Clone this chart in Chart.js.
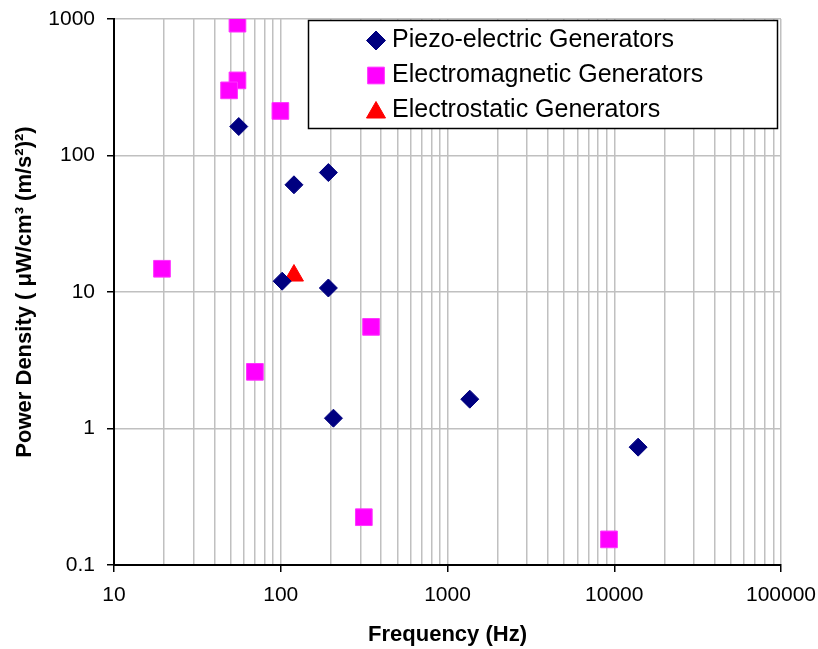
<!DOCTYPE html>
<html>
<head>
<meta charset="utf-8">
<script src="https://cdn.jsdelivr.net/npm/chart.js@4.4.1/dist/chart.umd.min.js"></script>
<style>
  body { margin: 0; background: #fff; }
</style>
</head>
<body>
<canvas id="chart" width="818" height="649"></canvas>
<script>
const FONT = "'Liberation Sans', Arial, sans-serif";

// data
const piezoFreq = [56, 120, 193, 102, 193, 207, 1360, 13900];
const piezoPower = [163, 61, 75, 12, 10.7, 1.19, 1.64, 0.73];

const emFreq = [55, 55, 49, 99.5, 19.4, 348, 70, 315, 9300];
const emPower = [924, 355, 300, 212, 14.8, 5.55, 2.6, 0.224, 0.154];

const esFreq = [120];
const esPower = [13.2];

const xTickLabels = ['10', '100', '1000', '10000', '100000'];
const yTickLabels = ['0.1', '1', '10', '100', '1000'];

const toPoints = (xs, ys) => xs.map((x, i) => ({ x: x, y: ys[i] }));

// x axis: decades get a label, 2..9 get only a grid line
const xMajor = xTickLabels.map(Number);
const xTicks = [];
xMajor.forEach((d, i) => {
  xTicks.push({ value: d, major: true });
  if (i < xMajor.length - 1) {
    for (let m = 2; m <= 9; m++) xTicks.push({ value: d * m, major: false });
  }
});
const yTicks = yTickLabels.map(s => ({ value: Number(s), major: true }));

const isMajor = (v, list) => list.findIndex(t => Math.abs(t - v) < t * 1e-6);

// labels may hang past the plot edge, the layout padding already leaves room
const noOverhang = s => {
  s.paddingTop = 0; s.paddingBottom = 0; s.paddingLeft = 0; s.paddingRight = 0;
};

const legendBox = {
  id: 'legendBox',
  afterDraw(chart) {
    const ctx = chart.ctx;
    ctx.save();
    ctx.fillStyle = '#fff';
    ctx.fillRect(308, 20, 470, 109);
    ctx.strokeStyle = '#000';
    ctx.lineWidth = 1.5;
    ctx.strokeRect(308.5, 20.5, 469, 108);
    chart.data.datasets.forEach((ds, i) => {
      const y = 40.5 + i * 35;
      ctx.fillStyle = ds.backgroundColor;
      ctx.strokeStyle = ds.borderColor;
      ctx.lineWidth = 1;
      const r = ds.pointStyle === 'rectRot' ? 9.5 : ds.pointStyle === 'rect' ? 11.8 : 11;
      const dy = ds.pointStyle === 'triangle' ? 2 : 0;
      Chart.helpers.drawPoint(ctx, { pointStyle: ds.pointStyle, radius: r, rotation: 0, borderWidth: 1 }, 376, y + dy);
      ctx.fillStyle = '#000';
      ctx.font = '25px ' + FONT;
      ctx.textBaseline = 'middle';
      ctx.textAlign = 'left';
      ctx.fillText(ds.label, 392, y);
    });
    ctx.restore();
  }
};

new Chart(document.getElementById('chart'), {
  type: 'scatter',
  data: {
    datasets: [
      {
        label: 'Piezo-electric Generators',
        data: toPoints(piezoFreq, piezoPower),
        pointStyle: 'rectRot',
        pointRadius: 9,
        pointHoverRadius: 9,
        backgroundColor: '#000080',
        borderColor: '#000080',
        borderWidth: 1
      },
      {
        label: 'Electromagnetic Generators',
        data: toPoints(emFreq, emPower),
        pointStyle: 'rect',
        pointRadius: 11.8,
        pointHoverRadius: 11.8,
        backgroundColor: '#ff00ff',
        borderColor: '#ff33ff',
        borderWidth: 1
      },
      {
        label: 'Electrostatic Generators',
        data: toPoints(esFreq, esPower),
        pointStyle: 'triangle',
        pointRadius: 11,
        pointHoverRadius: 11,
        backgroundColor: '#ff0000',
        borderColor: '#ff0000',
        borderWidth: 1
      }
    ]
  },
  options: {
    responsive: false,
    animation: false,
    layout: { padding: { top: 19, right: 37, left: 0, bottom: 0 } },
    plugins: {
      legend: { display: false },
      tooltip: { enabled: false }
    },
    scales: {
      x: {
        type: 'logarithmic',
        min: 10,
        max: 100000,
        afterBuildTicks: s => { s.ticks = xTicks.map(t => ({ ...t })); },
        afterFit: s => { s.height = 84; noOverhang(s); },
        border: { color: '#000', width: 2 },
        grid: {
          color: '#c0c0c0',
          lineWidth: 1.5,
          tickLength: 7,
          tickColor: c => (c.tick && c.tick.major ? '#000' : 'rgba(0,0,0,0)')
        },
        ticks: {
          autoSkip: false,
          maxRotation: 0,
          padding: 11,
          color: '#000',
          font: { family: FONT, size: 21 },
          callback: v => {
            const i = isMajor(v, xMajor);
            return i >= 0 ? xTickLabels[i] : '';
          }
        },
        title: {
          display: true,
          text: 'Frequency (Hz)',
          color: '#000',
          font: { family: FONT, size: 22, weight: 'bold' },
          padding: { top: 0, bottom: 1 }
        }
      },
      y: {
        type: 'logarithmic',
        min: 0.1,
        max: 1000,
        afterBuildTicks: s => { s.ticks = yTicks.map(t => ({ ...t })); },
        afterFit: s => { s.width = 114; noOverhang(s); },
        border: { color: '#000', width: 2 },
        grid: {
          color: '#c0c0c0',
          lineWidth: 1.5,
          tickLength: 7,
          tickColor: '#000'
        },
        ticks: {
          autoSkip: false,
          padding: 12,
          color: '#000',
          font: { family: FONT, size: 21 },
          callback: (v, i) => yTickLabels[i]
        },
        title: {
          display: true,
          text: 'Power Density ( \u03bcW/cm\u00b3 (m/s\u00b2)\u00b2)',
          color: '#000',
          font: { family: FONT, size: 22, weight: 'bold' },
          padding: { top: 12, bottom: 0 }
        }
      }
    }
  },
  plugins: [legendBox]
});
</script>
</body>
</html>
